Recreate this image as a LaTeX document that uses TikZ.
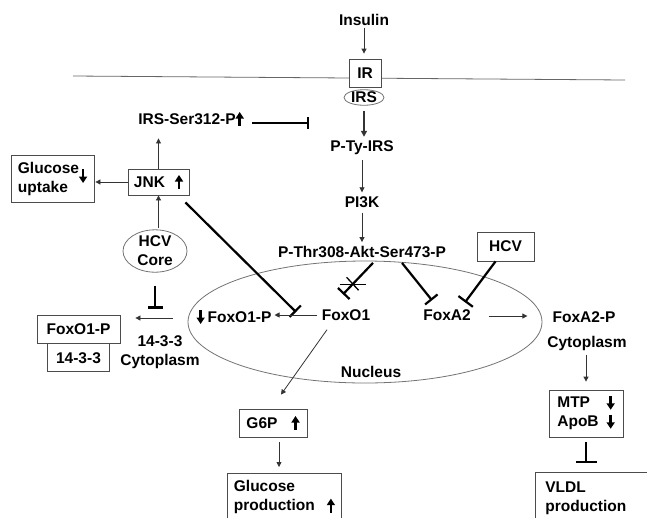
\documentclass[tikz,border=0pt]{standalone}
\usepackage{fontspec}
\setmainfont{Liberation Sans}
\usetikzlibrary{arrows.meta,calc,shapes.geometric}

\newcommand{\uarr}{\tikz[baseline=0pt,x=1pt,y=1pt]\draw[line width=2.5pt,-{Triangle[length=6.5pt,width=8pt]}] (0,-2) -- (0,12);}
\newcommand{\darr}{\tikz[baseline=0pt,x=1pt,y=1pt]\draw[line width=2.5pt,-{Triangle[length=6.5pt,width=8pt]}] (0,12) -- (0,-2);}

\begin{document}
\begin{tikzpicture}[x=1pt,y=-1pt,
  font=\bfseries\fontsize{15.5}{19}\selectfont,
  every node/.style={inner sep=2pt, text=black},
  box/.style={draw=black!70, line width=0.8pt, fill=white, inner sep=0pt},
  ell/.style={ellipse, draw=black!55, line width=0.8pt, inner sep=0pt},
  arr/.style={draw=black!80, line width=0.8pt, -{Triangle[length=5pt,width=5pt]}},
  inh/.style={draw=black, line width=2.2pt},
  membrane/.style={draw=black!60, line width=0.8pt}
]
\useasboundingbox (0,0) rectangle (647,517);
\clip (0,0) rectangle (647,517);

% membrane and nucleus
\draw[membrane] (73,76) -- (625,80);
\node[ell, minimum width=354, minimum height=122] (nuc) at (365,322) {};
\node (nucl) at (371,372) {Nucleus};

% main column
\node (ins) at (364,20) {Insulin};
\node[box, minimum width=32, minimum height=28] (ir) at (365,73) {IR};
\node[ell, fill=white, minimum width=40, minimum height=14] (irs) at (364,97.5) {IRS};
\node (pty) at (362,148) {P-Ty-IRS};
\node (pi3k) at (362,202) {PI3K};
\node (akt) at (362,252) {P-Thr308-Akt-Ser473-P};

\draw[arr, shorten >=5pt] (ins) -- (ins |- ir.north);
\draw[arr, line width=1.6pt, -{Triangle[length=6pt,width=6pt]}, shorten <=5pt, shorten >=2pt] (irs.south) -- (irs.south |- pty.north);
\draw[arr, shorten <=3pt, shorten >=2pt] (pty) -- (pi3k);
\draw[arr, shorten <=3pt, shorten >=2pt] (pi3k) -- (akt);

% left upper part
\node (ser) at (191,119) {IRS-Ser312-P\uarr};
\draw[inh, -{Bar[width=12pt]}] ($(ser.east)+(6,4)$) -- ($(ser.east)+(63,4)$);

\node[box, minimum width=83, minimum height=47, align=left] (gu) at (52.5,178.5) {Glucose\smash{\raisebox{-8pt}{\darr}}\\uptake};
\node[box, minimum width=61, minimum height=26] (jnk) at (158.5,182) {JNK\hspace{10pt}\uarr};
\node[ell, minimum width=64, minimum height=42, align=center] (core) at (155,251) {HCV\\Core};

\draw[arr, shorten <=1pt] (jnk.south |- core.north) -- (jnk.south);
\draw[arr, shorten >=9pt] (jnk.north) -- (jnk.north |- ser.south);
\draw[arr, shorten >=1pt] (jnk.west) -- (jnk.west -| gu.east);
\draw[inh, -{Bar[width=16pt]}] ($(jnk.south east)+(-4,7)$) -- (296,312);

% FoxO1-P / 14-3-3 complex
\node[box, minimum width=83, minimum height=28] (c1) at (78.5,329) {FoxO1-P};
\node[box, minimum width=62, minimum height=28, anchor=north] (c2) at (c1.south) {14-3-3};
\node[align=center] (cyt1) at (160,352) {14-3-3\\Cytoplasm};
\draw[arr] ($(nuc.west)+(-15,-4)$) -- ($(c1.east)+(15,-11)$);
\draw[inh, -{Bar[width=15pt]}, shorten <=13pt] (core.south) -- ++(0,36);

% nucleus content
\node (foxo1p) at (234,317) {\darr\hspace{3pt}FoxO1-P};
\node (foxo1) at (346,315) {FoxO1};
\node (foxa2) at (447,315) {FoxA2};
\draw[arr, shorten <=3pt, shorten >=1pt] (foxo1) -- (foxo1.west -| foxo1p.east);

% Akt inhibitions
\coordinate (aA) at ($(akt.south)+(11,3)$);
\coordinate (aB) at ($(foxo1.north)+(-3,-13)$);
\draw[inh, -{Bar[width=16pt]}] (aA) -- (aB);
\coordinate (xc) at ($(aA)!0.68!(aB)$);
\draw[draw=black, line width=1.3pt] ($(xc)+(-13,0)$) -- ($(xc)+(13,0)$);
\draw[draw=black, line width=1.3pt] ($(xc)+(-6,-7)$) -- ($(xc)+(6,6)$);
\draw[inh, -{Bar[width=16pt]}] ($(akt.south)+(40,3)$) -- ($(foxa2.north)+(-15,-7)$);

\node[box, minimum width=57, minimum height=29] (hcv) at (505.5,246.5) {HCV};
\draw[inh, -{Bar[width=18pt]}] ($(hcv.south)+(-10,0)$) -- ($(foxa2.north)+(18,-5)$);

% right side
\node (foxa2p) at (584,317) {FoxA2-P};
\node (cyt2) at (587,343) {Cytoplasm};
\draw[arr] ($(foxa2.east)+(16,1)$) -- ($(foxa2p.west)+(-23,-1)$);
\node[box, minimum width=74, minimum height=47] (mtp) at (586,413.5) {\begin{tabular}{@{}l@{\hspace{8pt}}c@{}}MTP&\darr\\ApoB&\darr\end{tabular}};
\draw[arr, shorten <=3pt, shorten >=8pt] (mtp.north |- cyt2.south) -- (mtp.north);
\draw[inh, -{Bar[width=21pt]}] ($(mtp.south)+(0,5)$) -- ($(mtp.south)+(0,26)$);
\node[box, anchor=north west, text width=100, inner xsep=10, inner ysep=9, align=left] (vldl) at (535,472) {VLDL\\production\rule[-30pt]{0pt}{0pt}};

% bottom left
\node[box, minimum width=68, minimum height=28] (g6p) at (273,423) {G6P\hspace{14pt}\uarr};
\draw[arr] ($(foxo1.south)+(-19,7)$) -- ($(g6p.north)+(8,-14)$);
\node[box, anchor=north west, text width=101, inner xsep=6.5, inner ysep=7, align=left] (gp) at (227,473) {Glucose\\production\hfill\uarr\rule[-30pt]{0pt}{0pt}};
\draw[arr] ($(g6p.south)+(6,5)$) -- ($(gp.north west)+(52,-6)$);
\end{tikzpicture}
\end{document}
